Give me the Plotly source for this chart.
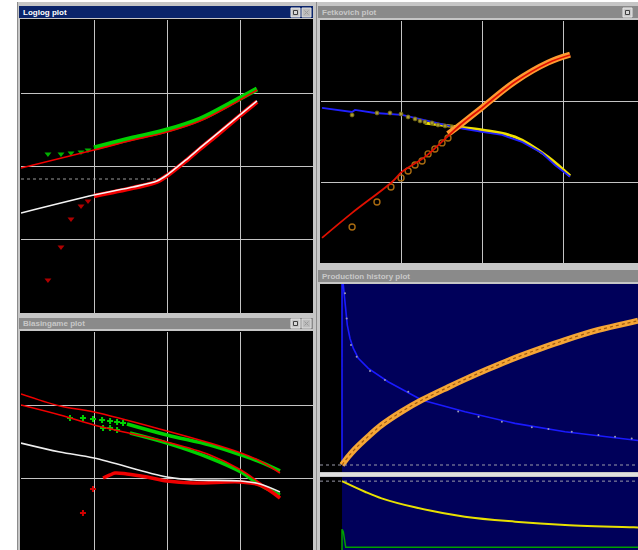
import plotly.graph_objects as go

W, H = 638, 550

# ---------------- data ----------------
# Loglog plot (time vs pressure change / derivative)
ll_model_t = [0.1, 1, 3.42, 10, 28.3, 80.2, 117, 171]
ll_model_p = [9.55, 16.8, 23.0, 29.6, 41.8, 71.3, 88.9, 110.7]
ll_press_t = [1, 3.42, 10, 28.3, 80.2, 171]
ll_press_p = [17.9, 24.5, 31.5, 44.5, 76.0, 114.3]
ll_press_early_t = [0.234, 0.353, 0.484, 0.664, 0.828]
ll_press_early_p = [14.8, 14.8, 15.3, 15.8, 16.8]
ll_deriv_model_t = [0.1, 1, 3.42, 7.29, 10, 18.8, 28.3, 48.4, 100, 171]
ll_deriv_model_p = [2.32, 4.08, 5.25, 6.34, 7.65, 12.65, 17.9, 27.8, 50.5, 78.4]
ll_deriv_t = [1, 3.42, 7.29, 10, 18.8, 28.3, 48.4, 100, 171]
ll_deriv_p = [3.95, 5.1, 6.2, 7.5, 12.3, 17.4, 27.0, 49.5, 76.5]
ll_deriv_early_t = [0.234, 0.353, 0.484, 0.664, 0.828]
ll_deriv_early_p = [0.282, 0.796, 1.92, 2.89, 3.38]
ll_ref_t = [0.1, 7.29]
ll_ref_p = [6.75, 6.75]

# Blasingame plot
bl_t = [0.1, 0.342, 1, 10, 38.8, 103, 188, 353]
bl_model1_q = [1.415, 0.968, 0.802, 0.441, 0.301, 0.220, 0.171, 0.117]
bl_model2_q = [1.0, 0.730, 0.532, 0.311, 0.207, 0.129, 0.0855, 0.0550]
bl_data1_t = [2.83, 10, 38.8, 103, 188, 353]
bl_data1_q = [0.550, 0.388, 0.283, 0.207, 0.166, 0.125]
bl_data1_early_t = [0.469, 0.706, 0.968, 1.29, 1.66, 2.07, 2.50]
bl_data1_early_q = [0.664, 0.664, 0.643, 0.624, 0.604, 0.585, 0.566]
bl_data2_t = [3.11, 10, 38.8, 103, 188, 353]
bl_data2_q = [0.413, 0.301, 0.188, 0.121, 0.0802, 0.0585]
bl_data2_early_t = [1.33, 1.66, 2.07]
bl_data2_early_q = [0.484, 0.484, 0.455]
bl_model3_t = [0.1, 0.342, 1, 10, 22.7, 103, 188, 353]
bl_model3_q = [0.301, 0.227, 0.188, 0.103, 0.0940, 0.0910, 0.0828, 0.0643]
bl_data3_t = [1.33, 1.66, 1.94, 2.83, 5.32, 10, 22.7, 103, 188, 353]
bl_data3_q = [0.1, 0.110, 0.117, 0.1135, 0.103, 0.091, 0.0855, 0.0881, 0.0802, 0.0532]
bl_data3_early_t = [0.706, 0.968]
bl_data3_early_q = [0.0332, 0.0707]

# Fetkovich plot
fk_rate_model_t = [0.103, 0.242, 0.263, 0.465, 1.0, 1.45, 4.91, 9.73, 17.2, 30.3, 53.5, 77.4, 119]
fk_rate_model_q = [0.836, 0.745, 0.789, 0.724, 0.684, 0.628, 0.472, 0.422, 0.387, 0.317, 0.231, 0.164, 0.117]
fk_rate_fit_t = [1.92, 4.91, 9.73, 24.8, 63.4, 119]
fk_rate_fit_q = [0.545, 0.486, 0.446, 0.366, 0.207, 0.120]
fk_rate_data_t = [0.242, 0.491, 0.711, 0.973, 1.19, 1.45, 1.67, 1.92, 2.35, 2.78, 3.40, 4.14]
fk_rate_data_q = [0.684, 0.724, 0.724, 0.704, 0.646, 0.611, 0.577, 0.560, 0.545, 0.514, 0.500, 0.486]
fk_cum_model_t = [0.103, 0.242, 0.753, 1.0, 1.92, 4.91, 9.73, 24.8, 63.4, 119]
fk_cum_model_q = [0.0205, 0.0418, 0.101, 0.135, 0.207, 0.486, 0.836, 1.75, 3.02, 3.79]
fk_cum_data_t = [0.242, 0.491, 0.731, 0.973, 1.19, 1.45, 1.77, 2.10, 2.55, 3.12, 3.70]
fk_cum_data_q = [0.0280, 0.0571, 0.0877, 0.1135, 0.138, 0.164, 0.184, 0.225, 0.259, 0.308, 0.355]
fk_cum_band_t = [3.70, 4.91, 9.73, 24.8, 63.4, 119]
fk_cum_band_q = [0.398, 0.490, 0.845, 1.77, 3.05, 3.82]

# Production history plot
ph_x_range = [-59.5, 800]
ph_rate_t = [0, 0, 3.5, 6.2, 10.0, 14.3, 21.6, 30.6, 44.1, 71.1, 124.5, 215.4, 332.5, 467.6, 602.8, 789.3, 800]
ph_rate = [0, 110, 99.4, 93.9, 86.5, 77.3, 69.9, 64.4, 58.9, 53.4, 46.0, 35.9, 29.4, 23.0, 18.4, 13.8, 13.5]
ph_rate_data_t = [8.1, 12.6, 24.3, 39.6, 75.7, 116, 179, 314, 369, 432, 513, 558, 621, 693, 738, 783]
ph_rate_data = [94.9, 81.0, 66.3, 59.8, 51.9, 47.0, 40.5, 29.5, 26.7, 23.9, 20.8, 19.9, 18.4, 16.6, 15.6, 14.7]
ph_cum_t = [0, 17, 35, 71, 107, 161, 215, 287, 332, 395, 468, 540, 603, 693, 789, 800]
ph_cum = [0, 4.6, 8.8, 15.8, 22.1, 29.5, 35.8, 43.0, 47.3, 53.0, 59.2, 64.6, 69.0, 74.6, 79.2, 79.7]
ph_p_t = [0, 62, 107, 197, 332, 468, 603, 789, 800]
ph_p = [5000, 4230, 3750, 3100, 2420, 2060, 1820, 1650, 1640]
ph_w_t = [0, 0, 3.5, 7, 10, 800]
ph_w = [0, 1500, 1330, 720, 200, 200]
ph_pi = 5000

# ---------------- helpers ----------------
def xd(a, b):
    return [a / W, b / W]

def yd(top, bottom):
    return [1 - bottom / H, 1 - top / H]

def prect(x0, y0, x1, y1, fill, lw=0, lc=None):
    return dict(type="rect", xref="paper", yref="paper", layer="below",
                x0=x0 / W, x1=x1 / W, y0=1 - y1 / H, y1=1 - y0 / H,
                fillcolor=fill, line=dict(width=lw, color=lc or fill))

def pline(x0, y0, x1, y1, color, w=1):
    return dict(type="line", xref="paper", yref="paper", layer="below",
                x0=x0 / W, x1=x1 / W, y0=1 - y0 / H, y1=1 - y1 / H,
                line=dict(color=color, width=w))

GRID = "#c4c4c4"
RED = "#f00000"
GREEN = "#00d000"

fig = go.Figure()

def add(x, y, ax, **kw):
    fig.add_trace(go.Scatter(x=x, y=y, xaxis="x" + ax, yaxis="y" + ax,
                             showlegend=False, hoverinfo="skip", **kw))

# ---- Loglog ----
add(ll_ref_t, ll_ref_p, "", mode="lines", line=dict(color="#9a9a9a", width=1, dash="dot"))
add(ll_press_t, ll_press_p, "", mode="lines", line=dict(color=GREEN, width=5, shape="spline"))
add(ll_press_early_t, ll_press_early_p, "", mode="markers",
    marker=dict(symbol="triangle-down", size=6, color="#00b000"))
add(ll_model_t, ll_model_p, "", mode="lines", line=dict(color=RED, width=1.6, shape="spline"))
add(ll_deriv_t, ll_deriv_p, "", mode="lines", line=dict(color=RED, width=4.5, shape="spline"))
add(ll_deriv_early_t, ll_deriv_early_p, "", mode="markers",
    marker=dict(symbol="triangle-down", size=6, color="#b00000"))
add(ll_deriv_model_t, ll_deriv_model_p, "", mode="lines",
    line=dict(color="#f4f4f4", width=1.6, shape="spline", smoothing=0.8))

# ---- Blasingame ----
add(bl_data1_t, bl_data1_q, "2", mode="lines", line=dict(color=GREEN, width=3.5, shape="spline"))
add(bl_data1_early_t, bl_data1_early_q, "2", mode="markers",
    marker=dict(symbol="cross", size=5, color=GREEN))
add(bl_data2_t, bl_data2_q, "2", mode="lines", line=dict(color=GREEN, width=3.5, shape="spline"))
add(bl_data2_early_t, bl_data2_early_q, "2", mode="markers",
    marker=dict(symbol="cross", size=5, color=GREEN))
add(bl_t, bl_model1_q, "2", mode="lines", line=dict(color=RED, width=1.6, shape="spline"))
add(bl_t, bl_model2_q, "2", mode="lines", line=dict(color=RED, width=1.6, shape="spline"))
add(bl_data3_t, bl_data3_q, "2", mode="lines", line=dict(color=RED, width=3.5, shape="spline"))
add(bl_data3_early_t, bl_data3_early_q, "2", mode="markers",
    marker=dict(symbol="cross", size=5, color="#d00000"))
add(bl_model3_t, bl_model3_q, "2", mode="lines", line=dict(color="#eeeeee", width=1.6, shape="spline"))

# ---- Fetkovich ----
add(fk_rate_fit_t, fk_rate_fit_q, "3", mode="lines", line=dict(color="#f0e000", width=3, shape="spline"))
add(fk_rate_model_t, fk_rate_model_q, "3", mode="lines", line=dict(color="#2020ff", width=1.8))
add(fk_rate_data_t, fk_rate_data_q, "3", mode="markers",
    marker=dict(symbol="circle", size=4, color="#a89a30", line=dict(color="#6a6010", width=0.8)))
add(fk_cum_band_t, fk_cum_band_q, "3", mode="lines",
    line=dict(color="#ff9a30", width=6, shape="spline"))
add(fk_cum_data_t, fk_cum_data_q, "3", mode="markers",
    marker=dict(symbol="circle-open", size=6, color="#a86a10", line=dict(width=1.4)))
add(fk_cum_model_t, fk_cum_model_q, "3", mode="lines", line=dict(color="#e01000", width=1.8, shape="spline"))

# ---- Production history (top) ----
add(ph_rate_t, ph_rate, "4", mode="lines", line=dict(color="#1a1aff", width=1.6))
add(ph_rate_data_t, ph_rate_data, "4", mode="markers",
    marker=dict(symbol="circle", size=2, color="#9a9ab8"))
add(ph_cum_t, ph_cum, "4", mode="lines", line=dict(color="#f5a535", width=6, shape="spline"))
add(ph_cum_t, ph_cum, "4", mode="lines", line=dict(color="#a05a10", width=1.2, dash="dot", shape="spline"))

# ---- Production history (bottom) ----
add(ph_p_t, ph_p, "5", mode="lines", line=dict(color="#e8e000", width=2, shape="spline"))
add(ph_w_t, ph_w, "5", mode="lines", line=dict(color="#00a000", width=1.5))

# ---------------- axes ----------------
def logax(dom, rng, anchor):
    return dict(domain=dom, type="log", range=rng, anchor=anchor, dtick=1,
                showgrid=True, gridcolor=GRID, gridwidth=1, showticklabels=False,
                ticks="", zeroline=False, showline=False, fixedrange=True)

def linax(dom, rng, anchor):
    return dict(domain=dom, range=rng, anchor=anchor, showgrid=False,
                showticklabels=False, ticks="", zeroline=False, showline=False,
                fixedrange=True)

layout = dict(
    width=W, height=H, margin=dict(l=0, r=0, t=0, b=0),
    paper_bgcolor="#ffffff", plot_bgcolor="rgba(0,0,0,0)",
    xaxis=logax(xd(21, 313), [-1, 3], "y"),
    yaxis=logax(yd(20, 313), [-1, 3], "x"),
    xaxis2=logax(xd(21, 313), [-1, 3], "y2"),
    yaxis2=logax(yd(332, 550), [-1.986, 1], "x2"),
    xaxis3=logax(xd(321, 638), [-1, 2.914], "y3"),
    yaxis3=logax(yd(21, 263), [-2, 1], "x3"),
    xaxis4=linax(xd(320, 638), ph_x_range, "y4"),
    yaxis4=linax(yd(284, 472), [-3.87, 100], "x4"),
    xaxis5=linax(xd(320, 638), ph_x_range, "y5"),
    yaxis5=linax(yd(477, 550), [0, 5300], "x5"),
)

NAVY = "#00005a"
TITLE_ACTIVE = "#0a246a"
TITLE_INACTIVE = "#8a8a8a"

shapes = [
    prect(17, 2, 638, 550, "#c6c6c6"),
    pline(17.5, 2, 17.5, 550, "#8c8c8c", 1),
    pline(316.5, 2, 316.5, 550, "#8c8c8c", 1),
    # title bars
    prect(19, 6, 313, 18, TITLE_ACTIVE),
    prect(318, 6, 638, 18, TITLE_INACTIVE),
    prect(19, 318, 313, 329, TITLE_INACTIVE),
    prect(318, 270, 638, 282, TITLE_INACTIVE),
    # plot backgrounds
    prect(20, 19, 313, 313, "#000000"),
    prect(20, 331, 313, 550, "#000000"),
    prect(320, 20, 638, 263, "#000000"),
    prect(320, 284, 638, 472, "#000000"),
    prect(320, 477, 638, 550, "#000000"),
    dict(type="rect", xref="x4", yref="paper", layer="below", x0=0, x1=ph_x_range[1],
         y0=1 - 472 / H, y1=1 - 284 / H, fillcolor=NAVY, line=dict(width=0)),
    dict(type="rect", xref="x5", yref="paper", layer="below", x0=0, x1=ph_x_range[1],
         y0=0, y1=1 - 477 / H, fillcolor=NAVY, line=dict(width=0)),
    # separator between production panes
    pline(320, 474.5, 638, 474.5, "#e0e0e0", 3),
    # reference lines in production panes
    dict(type="line", xref="x4 domain", yref="y4", x0=0, x1=1, y0=0, y1=0,
         line=dict(color="#9a9aa8", width=1, dash="dot")),
    dict(type="line", xref="x5 domain", yref="y5", x0=0, x1=1, y0=ph_pi, y1=ph_pi,
         line=dict(color="#9a9aa8", width=1, dash="dot")),
]

# window buttons
for (bx, by) in [(291, 8), (291, 319)]:
    shapes.append(prect(bx, by, bx + 9, by + 9, "#c8c8c8", 1, "#e8e8e8"))
    shapes.append(prect(bx + 2.5, by + 2.5, bx + 6.5, by + 6.5, "#d8d8d8", 1, "#404040"))
    shapes.append(prect(bx + 11, by, bx + 20, by + 9, "#bcbcbc", 1, "#e0e0e0"))
    shapes.append(pline(bx + 13.5, by + 2.5, bx + 17.5, by + 6.5, "#9a9a9a", 1))
    shapes.append(pline(bx + 13.5, by + 6.5, bx + 17.5, by + 2.5, "#9a9a9a", 1))
shapes.append(prect(623, 8, 632, 17, "#c8c8c8", 1, "#e8e8e8"))
shapes.append(prect(625.5, 10.5, 629.5, 14.5, "#d8d8d8", 1, "#404040"))

layout["shapes"] = shapes

def title(txt, x, y, color):
    return dict(text="<b>" + txt + "</b>", xref="paper", yref="paper",
                x=x / W, y=1 - y / H, xanchor="left", yanchor="middle", showarrow=False,
                font=dict(family="Liberation Sans", size=8, color=color))

layout["annotations"] = [
    title("Loglog plot", 21, 12, "#ffffff"),
    title("Fetkovich plot", 320, 12, "#c8c8c8"),
    title("Blasingame plot", 21, 323.5, "#c8c8c8"),
    title("Production history plot", 320, 276, "#c8c8c8"),
]

fig.update_layout(**layout)
fig.write_html("out.html", config={"displayModeBar": False},
               post_script="document.body.style.margin='0px';document.body.style.overflow='hidden';")
